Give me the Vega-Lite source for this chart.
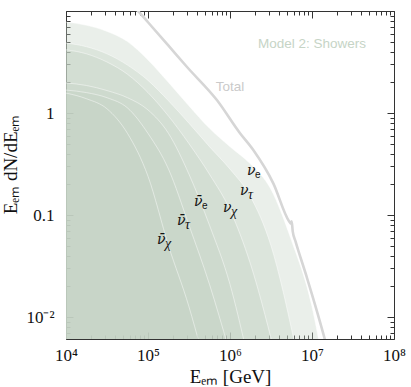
{
  "$schema": "https://vega.github.io/schema/vega-lite/v6.json",
  "width": 328,
  "height": 328,
  "autosize": {"type": "none"},
  "padding": {"left": 66, "top": 11, "right": 17, "bottom": 48},
  "background": "white",
  "config": {
    "view": {"stroke": "#333333", "strokeWidth": 1},
    "axis": {
      "domain": false,
      "grid": false,
      "tickColor": "#333333",
      "labelFont": "Liberation Serif",
      "labelFontSize": 17,
      "labelColor": "#111111",
      "titleFont": "Liberation Serif",
      "titleFontSize": 19,
      "titleFontWeight": "normal",
      "titleColor": "#111111"
    }
  },
  "datasets": {
    "curves": [
      {"s": "nubx", "E": 10000, "v": 1.57},
      {"s": "nubx", "E": 17783, "v": 1.38},
      {"s": "nubx", "E": 31623, "v": 1.10},
      {"s": "nubx", "E": 56234, "v": 0.631},
      {"s": "nubx", "E": 100000, "v": 0.240},
      {"s": "nubx", "E": 177828, "v": 0.0501},
      {"s": "nubx", "E": 316228, "v": 0.01259},
      {"s": "nubx", "E": 436516, "v": 0.005},
      {"s": "nubt", "E": 10000, "v": 1.679},
      {"s": "nubt", "E": 17783, "v": 1.585},
      {"s": "nubt", "E": 31623, "v": 1.413},
      {"s": "nubt", "E": 56234, "v": 1.122},
      {"s": "nubt", "E": 100000, "v": 0.631},
      {"s": "nubt", "E": 177828, "v": 0.282},
      {"s": "nubt", "E": 316228, "v": 0.0794},
      {"s": "nubt", "E": 562341, "v": 0.0209},
      {"s": "nubt", "E": 954993, "v": 0.005},
      {"s": "nube", "E": 10000, "v": 1.972},
      {"s": "nube", "E": 17783, "v": 1.862},
      {"s": "nube", "E": 31623, "v": 1.660},
      {"s": "nube", "E": 56234, "v": 1.413},
      {"s": "nube", "E": 100000, "v": 1.072},
      {"s": "nube", "E": 177828, "v": 0.631},
      {"s": "nube", "E": 316228, "v": 0.251},
      {"s": "nube", "E": 562341, "v": 0.0794},
      {"s": "nube", "E": 1000000, "v": 0.0209},
      {"s": "nube", "E": 1548817, "v": 0.005},
      {"s": "nux", "E": 10000, "v": 4.169},
      {"s": "nux", "E": 17783, "v": 3.802},
      {"s": "nux", "E": 31623, "v": 3.162},
      {"s": "nux", "E": 56234, "v": 2.399},
      {"s": "nux", "E": 100000, "v": 1.585},
      {"s": "nux", "E": 177828, "v": 0.933},
      {"s": "nux", "E": 316228, "v": 0.501},
      {"s": "nux", "E": 562341, "v": 0.251},
      {"s": "nux", "E": 1000000, "v": 0.1122},
      {"s": "nux", "E": 1778279, "v": 0.0331},
      {"s": "nux", "E": 3388442, "v": 0.005},
      {"s": "nut", "E": 10000, "v": 4.853},
      {"s": "nut", "E": 17783, "v": 4.467},
      {"s": "nut", "E": 31623, "v": 3.802},
      {"s": "nut", "E": 56234, "v": 2.951},
      {"s": "nut", "E": 100000, "v": 2.089},
      {"s": "nut", "E": 177828, "v": 1.318},
      {"s": "nut", "E": 316228, "v": 0.794},
      {"s": "nut", "E": 562341, "v": 0.468},
      {"s": "nut", "E": 1000000, "v": 0.282},
      {"s": "nut", "E": 1778279, "v": 0.1514},
      {"s": "nut", "E": 3162278, "v": 0.0501},
      {"s": "nut", "E": 6309573, "v": 0.005},
      {"s": "nue", "E": 10000, "v": 7.798},
      {"s": "nue", "E": 17783, "v": 7.244},
      {"s": "nue", "E": 31623, "v": 6.310},
      {"s": "nue", "E": 56234, "v": 5.012},
      {"s": "nue", "E": 100000, "v": 3.311},
      {"s": "nue", "E": 177828, "v": 1.995},
      {"s": "nue", "E": 316228, "v": 1.175},
      {"s": "nue", "E": 562341, "v": 0.708},
      {"s": "nue", "E": 1000000, "v": 0.468},
      {"s": "nue", "E": 1778279, "v": 0.316},
      {"s": "nue", "E": 3162278, "v": 0.178},
      {"s": "nue", "E": 5623413, "v": 0.0562},
      {"s": "nue", "E": 10000000, "v": 0.0126},
      {"s": "nue", "E": 12589254, "v": 0.005}
    ],
    "total": [
      {"E": 10000, "v": 21.88},
      {"E": 31623, "v": 16.6},
      {"E": 75509, "v": 10.0},
      {"E": 100000, "v": 7.76},
      {"E": 177828, "v": 4.57},
      {"E": 299226, "v": 2.825},
      {"E": 691831, "v": 1.340},
      {"E": 1318257, "v": 0.637},
      {"E": 1923090, "v": 0.4335},
      {"E": 3372873, "v": 0.2046},
      {"E": 5248075, "v": 0.0871},
      {"E": 5559043, "v": 0.0822},
      {"E": 5649370, "v": 0.0871},
      {"E": 5821032, "v": 0.0692},
      {"E": 6309573, "v": 0.0550},
      {"E": 8609938, "v": 0.02483},
      {"E": 14421087, "v": 0.005957},
      {"E": 15848932, "v": 0.004467}
    ],
    "labels": [
      {"E": 1610000, "v": 0.2466, "t": "ν", "sub": "e"},
      {"E": 1320000, "v": 0.157, "t": "ν", "sub": "τ"},
      {"E": 822000, "v": 0.107, "t": "ν", "sub": "χ"},
      {"E": 364000, "v": 0.1225, "t": "ν̄", "sub": "e"},
      {"E": 226000, "v": 0.0798, "t": "ν̄", "sub": "τ"},
      {"E": 129000, "v": 0.052, "t": "ν̄", "sub": "χ"}
    ],
    "notes": [
      {"E": 10000000, "v": 4.33, "t": "Model 2: Showers", "c": "m"},
      {"E": 1000000, "v": 1.64, "t": "Total", "c": "t"}
    ]
  },
  "resolve": {"axis": {"x": "independent", "y": "independent"}},
  "layer": [
    {
      "data": {"name": "curves"},
      "mark": {"type": "area", "interpolate": "monotone", "clip": true, "fill": "#c4d2c4", "fillOpacity": 0.36},
      "encoding": {
        "x": {
          "field": "E", "type": "quantitative",
          "scale": {"type": "log", "domain": [10000, 100000000], "nice": false},
          "axis": {
            "orient": "bottom",
            "title": "Eₑₘ [GeV]",
            "values": [10000,20000,30000,40000,50000,60000,70000,80000,90000,100000,200000,300000,400000,500000,600000,700000,800000,900000,1000000,2000000,3000000,4000000,5000000,6000000,7000000,8000000,9000000,10000000,20000000,30000000,40000000,50000000,60000000,70000000,80000000,90000000,100000000],
            "labelExpr": "datum.value==10000?'10⁴':datum.value==100000?'10⁵':datum.value==1000000?'10⁶':datum.value==10000000?'10⁷':datum.value==100000000?'10⁸':''",
            "tickSize": {"condition": {"test": "indexof([10000,100000,1000000,10000000,100000000], datum.value) >= 0", "value": -7}, "value": -4},
            "labelPadding": 15,
            "labelFlush": false,
            "labelOverlap": false,
            "titlePadding": 1
          }
        },
        "y": {
          "field": "v", "type": "quantitative",
          "scale": {"type": "log", "domain": [0.0061, 10], "nice": false},
          "axis": {
            "orient": "left",
            "title": "Eₑₘ dN/dEₑₘ",
            "titleY": 153,
            "values": [0.007,0.008,0.009,0.01,0.02,0.03,0.04,0.05,0.06,0.07,0.08,0.09,0.1,0.2,0.3,0.4,0.5,0.6,0.7,0.8,0.9,1,2,3,4,5,6,7,8,9,10],
            "labelExpr": "datum.value==1?'1':datum.value==0.1?'0.1':datum.value==0.01?'10⁻²':''",
            "tickSize": {"condition": {"test": "indexof([0.01,0.1,1,10], datum.value) >= 0", "value": -7}, "value": -4},
            "labelPadding": 19,
            "labelFlush": false,
            "labelOverlap": false,
            "titlePadding": 5
          }
        },
        "y2": {"datum": 0.004},
        "detail": {"field": "s"}
      }
    },
    {
      "data": {"name": "curves"},
      "mark": {"type": "line", "interpolate": "monotone", "clip": true, "stroke": "#ffffff", "strokeOpacity": 0.45, "strokeWidth": 1},
      "encoding": {
        "x": {"field": "E", "type": "quantitative", "scale": {"type": "log", "domain": [10000, 100000000], "nice": false}, "axis": null},
        "y": {"field": "v", "type": "quantitative", "scale": {"type": "log", "domain": [0.0061, 10], "nice": false}, "axis": null},
        "detail": {"field": "s"}
      }
    },
    {
      "data": {"name": "total"},
      "mark": {"type": "line", "interpolate": "monotone", "clip": true, "stroke": "#d6d6d6", "strokeWidth": 2.6},
      "encoding": {
        "x": {
          "field": "E", "type": "quantitative",
          "scale": {"type": "log", "domain": [10000, 100000000], "nice": false},
          "axis": {
            "orient": "top", "title": null, "labels": false,
            "values": [10000,20000,30000,40000,50000,60000,70000,80000,90000,100000,200000,300000,400000,500000,600000,700000,800000,900000,1000000,2000000,3000000,4000000,5000000,6000000,7000000,8000000,9000000,10000000,20000000,30000000,40000000,50000000,60000000,70000000,80000000,90000000,100000000],
            "tickSize": {"condition": {"test": "indexof([10000,100000,1000000,10000000,100000000], datum.value) >= 0", "value": -7}, "value": -4}
          }
        },
        "y": {
          "field": "v", "type": "quantitative",
          "scale": {"type": "log", "domain": [0.0061, 10], "nice": false},
          "axis": {
            "orient": "right", "title": null, "labels": false,
            "values": [0.007,0.008,0.009,0.01,0.02,0.03,0.04,0.05,0.06,0.07,0.08,0.09,0.1,0.2,0.3,0.4,0.5,0.6,0.7,0.8,0.9,1,2,3,4,5,6,7,8,9,10],
            "tickSize": {"condition": {"test": "indexof([0.01,0.1,1,10], datum.value) >= 0", "value": -7}, "value": -4}
          }
        }
      }
    },
    {
      "data": {"name": "notes"},
      "mark": {"type": "text", "font": "Liberation Sans", "fontSize": 13.5, "align": "center", "baseline": "alphabetic"},
      "encoding": {
        "x": {"field": "E", "type": "quantitative", "scale": {"type": "log", "domain": [10000, 100000000], "nice": false}, "axis": null},
        "y": {"field": "v", "type": "quantitative", "scale": {"type": "log", "domain": [0.0061, 10], "nice": false}, "axis": null},
        "text": {"field": "t"},
        "color": {"field": "c", "type": "nominal", "scale": {"domain": ["m", "t"], "range": ["#c6d4c6", "#cacaca"]}, "legend": null}
      }
    },
    {
      "data": {"name": "labels"},
      "mark": {"type": "text", "font": "DejaVu Serif", "fontStyle": "italic", "fontSize": 14, "align": "left", "baseline": "alphabetic", "color": "#111111"},
      "encoding": {
        "x": {"field": "E", "type": "quantitative", "scale": {"type": "log", "domain": [10000, 100000000], "nice": false}, "axis": null},
        "y": {"field": "v", "type": "quantitative", "scale": {"type": "log", "domain": [0.0061, 10], "nice": false}, "axis": null},
        "text": {"field": "t"}
      }
    },
    {
      "data": {"name": "labels"},
      "transform": [{"filter": "datum.sub == 'e'"}],
      "mark": {"type": "text", "font": "Liberation Sans", "fontSize": 10, "align": "left", "baseline": "alphabetic", "dx": 8, "dy": 3, "color": "#111111"},
      "encoding": {
        "x": {"field": "E", "type": "quantitative", "scale": {"type": "log", "domain": [10000, 100000000], "nice": false}, "axis": null},
        "y": {"field": "v", "type": "quantitative", "scale": {"type": "log", "domain": [0.0061, 10], "nice": false}, "axis": null},
        "text": {"field": "sub"}
      }
    },
    {
      "data": {"name": "labels"},
      "transform": [{"filter": "datum.sub != 'e'"}],
      "mark": {"type": "text", "font": "Liberation Serif", "fontStyle": "italic", "fontSize": 14, "align": "left", "baseline": "alphabetic", "dx": 8, "dy": 4, "color": "#111111"},
      "encoding": {
        "x": {"field": "E", "type": "quantitative", "scale": {"type": "log", "domain": [10000, 100000000], "nice": false}, "axis": null},
        "y": {"field": "v", "type": "quantitative", "scale": {"type": "log", "domain": [0.0061, 10], "nice": false}, "axis": null},
        "text": {"field": "sub"}
      }
    }
  ]
}
